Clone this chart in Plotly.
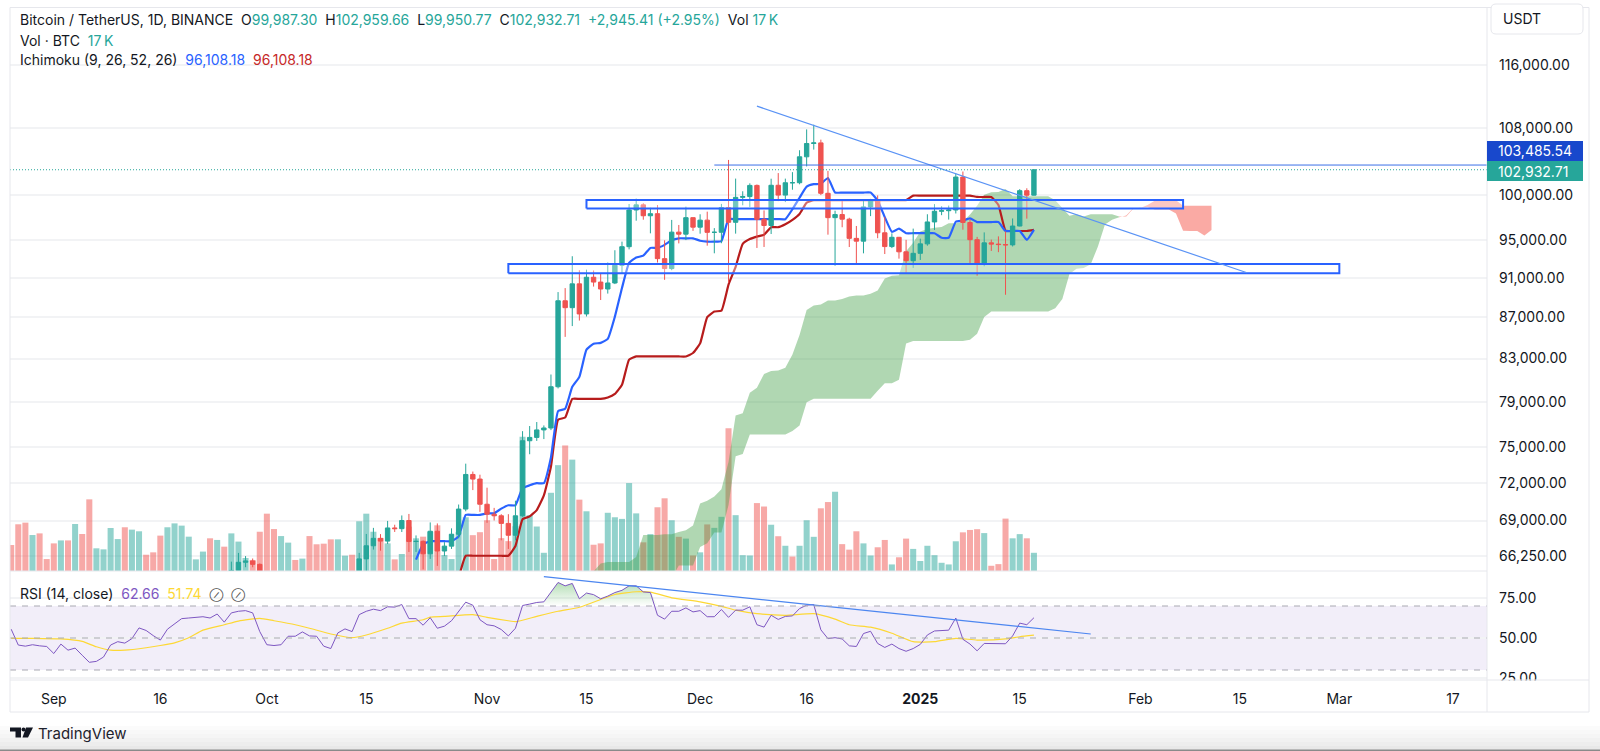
import math
import pandas as pd
import plotly.graph_objects as go

W, H = 1600, 751

# ---------- price candles (USDT) from 2024-09-26 ----------
candle_start = "2024-09-26"
o_ = [63140,65181,65790,65888,65635,
 63329,60837,60632,60751,62086,62058,62820,62224,62134,60582,60275,62445,63193,62851,66046,67041,67612,67399,68418,68362,69001,67367,67380,66432,68161,66642,67014,67929,69907,72720,72339,
 70292,69496,69374,68775,67850,69372,75571,75857,76509,76677,80370,88648,87952,90375,87325,91056,90558,89845,90464,92310,94286,98317,98892,97672,97900,93010,91965,95863,95643,97460,
 96407,97185,95840,95849,98587,96945,99740,99831,101109,97276,96593,101125,100000,101417,101420,104463,106058,106133,100204,97461,97805,97291,95186,94881,98663,99430,95792,94299,95300,93738,92792,
 93576,94591,96985,98174,98236,98315,102078,96922,95043,92484,94701,94566,94516,94480,96534,100504,99987.30]
h_ = [65839,66498,66260,66076,65700,
 64130,62400,61470,62484,62370,62975,64478,63200,62543,61320,63417,63480,63285,66500,67950,68424,67939,68969,68668,69400,69519,67836,67451,68850,68771,67317,68388,70270,73620,72961,72700,
 71632,70000,69500,69500,70577,76400,76849,77199,76900,81500,89530,89940,93265,91790,91850,91763,91449,92594,93905,94831,98988,99588,99073,98564,98871,94973,97208,96650,98692,97463,
 97836,98130,96305,99000,104088,101898,100439,101350,101215,98270,101888,102540,101895,102650,105250,107780,108353,106524,102800,98233,99540,97448,96539,99487,99569,99963,97544,95733,95340,95024,96250,
 95151,97839,98976,98734,98813,102482,102724,97258,95349,95836,95050,95400,95940,97371,100681,100781,102959.66]
l_ = [62670,64819,65422,65420,62750,
 60164,60000,59828,60459,61700,61800,62128,61860,60300,58946,60050,62400,61800,62457,64800,66750,66666,67177,68105,68100,66571,66571,65260,66048,65521,66261,66800,67618,69729,71436,69685,
 68820,69000,67458,66800,67458,69298,74416,75555,75714,76492,80216,85072,86127,86668,87073,90094,88722,89376,90350,91500,94000,97122,97232,95734,92600,90791,91792,94641,95000,96000,
 95693,94395,93578,94660,90500,95700,98844,98658,94150,94256,95658,99311,99205,100615,101237,103322,105321,100000,95587,92232,96398,94250,92520,93575,97632,95199,93500,94135,93009,91530,92033,
 92870,94392,96100,97735,97250,97926,96132,92500,91220,92206,93831,93700,89256,94310,96500,97352,99950.77]
c_ = [65181,65790,65887,65635,63329,
 60837,60632,60751,62086,62058,62820,62224,62134,60582,60275,62445,63193,62851,66046,67041,67612,67399,68418,68362,69001,67367,67380,66432,68161,66642,67014,67929,69907,72720,72339,70292,
 69496,69374,68775,67850,69372,75571,75857,76509,76677,80370,88647,87952,90375,87325,91056,90558,89845,90464,92310,94286,98317,98892,97672,97900,93010,91965,95863,95643,97460,96407,
 97185,95840,95849,98587,96945,99740,99831,101109,97276,96593,101125,100000,101417,101420,104463,106058,106133,100204,97461,97805,97291,95186,94881,98663,99429,95792,94299,95300,93738,92792,93576,
 94591,96985,98174,98236,98315,102078,96922,95043,92484,94701,94566,94516,94480,96534,100504,99987,102932.71]

# ---------- volume (thousand BTC) from 2024-08-26 ----------
volume_start = "2024-08-26"
volume = [17.4,31.3,32.4,24.1,25.2,8.0,
 18.5,20.5,20.5,31.5,24.8,48.0,15.2,14.5,28.8,21.4,29.3,27.7,26.6,10.9,12.5,23.7,29.3,31.9,30.4,23.0,7.8,13.0,21.9,20.8,16.3,25.2,19.7,8.7,7.4,26.3,
 38.4,28.1,23.4,19.0,7.4,8.3,23.4,17.9,18.3,21.2,21.2,10.3,10.9,33.3,38.4,26.3,22.1,18.5,7.8,11.4,29.7,21.9,23.0,26.3,30.6,10.7,8.0,26.0,36.0,24.0,26.0,
 34.0,8.0,22.0,20.0,30.0,89.9,37.4,29.8,12.2,52.4,70.9,84.1,74.6,47.8,40.0,17.6,18.5,39.0,36.0,34.9,58.9,38.6,19.2,24.7,42.7,48.7,34.0,22.9,21.7,10.4,
 12.5,31.2,28.9,36.3,95.6,37.4,10.6,10.4,45.5,43.2,31.0,23.3,16.9,9.7,16.9,34.0,22.9,42.0,46.2,53.1,18.0,14.3,26.6,18.5,10.4,15.9,20.8,4.4,9.2,21.7,14.8,
 6.7,16.9,10.6,5.5,4.4,19.9,25.9,27.5,28.0,25.4,3.5,4.6,35.1,21.9,24.7,21.9,12.2]
volume_dir = ("dddudd" "dududduuuu" "duuddduuuu" "uududuuudd"
              "dduududddd" "uuduuududu" "dududuuuudd"
              "dddduuuuuu" "udududduuu" "uududdudud"
              "uduuduuudd" "ududuuuddu" "ddduudduddu"
              "uuuuuudddu" "ddduudu")

# ---------- Ichimoku (9, 26, 52, 26) ----------
tenkan_start = "2024-10-22"
tenkan = [65988,67160,67390,67390,67390,67390,67765,69440,69440,69440,
 69570,69570,69940,70210,70210,71600,71824,71999,71999,74150,78165,78370,80361,81281,83840,84410,84490,84878,87060,89951,92557,93128,93330,94155,94155,94482,94969,95190,95190,95190,
 94932,94831,94831,94896,97294,97294,97294,97294,97294,97294,97294,97294,97294,98400,99700,100965,101251,101304,101970,100292,100292,100292,100292,100292,100292,99378,97516,95900,96241,95746,95746,
 95746,95746,95746,95253,95253,97006,97127,97378,96972,96972,96972,96972,95990,95990,95990,95018,96108.18]
kijun_start = "2024-10-28"
kijun = [64608,66283,66283,66283,
 66283,66283,66283,66283,67018,69100,69325,69828,71000,73380,77395,77600,79262,79262,79262,79262,79262,79393,79713,80546,82894,83194,83194,83194,83194,83194,83194,83194,83194,83523,
 84443,87002,87571,87651,90290,92152,94580,95107,95378,95580,96405,96405,96732,97219,97875,99140,99426,99426,99426,99426,99426,99426,99426,99426,99426,99426,99426,99426,99426,99426,99941,
 99941,99941,99941,99941,99941,99941,99941,99941,99786,99786,99786,98872,96028,95990,95990,95990,96108.18]
cloud_start = "2024-11-16"
span_a = [65110,65696,65811,65811,65811,65811,66186,67861,67861,67861,
 67926,67926,68111,68246,68614,70350,70574,70913,71500,73765,77780,77985,79811,80271,81551,81836,81876,82135,83386,85248,87725,88161,88262,88674,88674,88838,89081,89192,89192,89356,
 89687,90916,91201,91273,93792,94723,95937,96200,96336,96437,96849,96849,97013,97809,98787,100052,100338,100365,100698,99859,99859,99859,99859,99859,99859,99402,98471,97663,97833,97586,97843,
 97843,97843,97843,97597,97597,98473,98534,98659,98379,98379,98379,97922,96009,95990,95990,95504,96108.18]
span_b = [61035,61035,61035,61035,61035,61035,62007,63610,63610,64000,
 64587,64587,65556,65556,65556,66946,67234,68072,68072,70223,74238,74443,76105,76105,76105,76105,76105,76105,76425,76888,78967,79267,79267,79267,79267,79267,79267,79267,79267,79267,
 80002,80694,80694,81022,84444,84674,84674,84674,84674,84674,84674,84674,84674,84804,85385,87020,87576,87576,87576,87576,87576,87576,87576,87576,87576,87905,88825,91384,91954,92033,92422,
 94284,96712,97240,97510,97713,98537,98537,98864,99351,99426,99426,99426,98804,98804,98804,98804,98804]

# ---------- RSI (14) from 2024-08-26 ----------
rsi = [55.5,45.6,44.9,45.8,45.1,44.7,40.3,46.2,42.4,43.7,39.2,34.8,35.4,38.1,45.6,47.7,46.8,49.6,56.3,54.7,
 51.5,48.7,55.5,59.1,62.1,62.5,62.9,63.3,62.5,65.0,59.9,65.7,66.7,67.1,65.7,54.0,45.8,45.3,45.8,51.1,
 51.1,53.8,51.3,51.1,44.9,43.4,53.2,55.7,54.0,64.6,66.7,68.0,67.1,69.5,69.3,70.9,62.1,62.1,58.0,62.7,
 56.1,57.4,60.8,66.7,72.4,70.5,61.4,58.3,57.6,55.3,51.3,56.1,70.3,71.2,72.2,72.6,78.4,84.7,82.6,84.1,
 74.5,78.1,77.1,74.5,76.2,78.4,79.8,82.6,82.6,78.8,78.4,64.2,61.8,66.7,66.7,68.8,66.3,67.1,63.3,63.3,
 67.8,62.9,67.4,67.4,69.5,58.3,56.8,64.2,61.6,63.5,63.8,68.4,70.5,70.9,55.1,49.6,50.2,49.4,45.1,44.7,
 52.8,54.2,46.6,44.1,46.2,43.4,41.7,43.4,46.0,51.9,54.4,54.7,54.9,62.5,49.2,46.2,42.0,46.6,46.6,46.6,
 46.4,51.3,59.3,58.3,62.66]
rsi_ma_days = [0,3,7,10,12,14,16,19,21,23,25,27,30,32,35,37,40,42,45,48,50,53,55,58,59,61,65,67,70,71,74,77,80,83,85,88,90,93,97,100,102,105,109,113,116,118,121,124,127,130,133,136,140,142,144]
rsi_ma = [49.8,49.8,49.4,47.9,44.5,42.4,42.4,43.9,45.3,47.0,50.2,54.9,58.3,60.6,62.3,60.8,58.3,56.1,52.5,50.2,51.9,56.1,59.3,61.4,63.1,63.5,64.6,62.9,60.8,60.2,63.5,66.7,69.2,74.1,77.2,78.9,78.7,75.1,72.6,69.8,67.4,65.2,64.2,65.2,61.8,58.3,56.8,53.0,47.7,47.7,49.8,48.7,49.4,50.8,51.74]

# ---------- drawings ----------
zone_upper_dates = ["2024-11-15", "2025-02-07"]
zone_upper_prices = [98472, 99431]
zone_lower_dates = ["2024-11-04", "2025-03-01"]
zone_lower_prices = [91480, 92434]
trend_dates = ["2024-12-09", "2025-02-16"]
trend_prices = [110680, 91530]
rsi_trend_dates = ["2024-11-09", "2025-01-25"]
rsi_trend_values = [88.3, 52.5]
level_dates = ["2024-12-03", "2025-03-22"]
level_price = 103485.54
last_price = 102932.71
x_range = ["2024-08-25 20:00", "2025-03-21 19:00"]

# ---------- axis labels ----------
price_ticks = [116000,108000,100000,95000,91000,87000,83000,79000,75000,72000,69000,66250]
rsi_ticks = [75, 50, 25]
date_ticks = ["2024-09-01","2024-09-16","2024-10-01","2024-10-15","2024-11-01","2024-11-15","2024-12-01","2024-12-16","2025-01-01","2025-01-15","2025-02-01","2025-02-15","2025-03-01","2025-03-17"]
date_labels = ["Sep","16","Oct","15","Nov","15","Dec","16","<b>2025</b>","15","Feb","15","Mar","17"]

for a, b in [(o_, h_), (o_, l_), (o_, c_)]:
    assert len(a) == len(b)
assert len(volume) == len(volume_dir) == len(rsi)
assert len(tenkan) == len(span_a) == len(span_b)

FONT = "Inter, Roboto, sans-serif"
INK = "#131722"
TEAL = "#26a69a"
RED = "#ef5350"
BLUE = "#2962ff"
DARKRED = "#b71c1c"
GRID = "#f2f3f5"
FRAME = "#e6e7ec"

def days(start, values):
    return pd.date_range(start, periods=len(values), freq="D")

def px(x): return x / W
def py(y): return 1 - y / H

candle_dates = days(candle_start, o_)
vol_dates = days(volume_start, volume)
cloud_dates = days(cloud_start, span_a)
rsi_dates = days(volume_start, rsi)

traces = []
# volume, drawn first
traces.append(go.Bar(x=vol_dates, y=volume, xaxis="x", yaxis="y",
                     marker=dict(color=["rgba(38,166,154,0.5)" if d == "u" else "rgba(239,83,80,0.5)" for d in volume_dir], line_width=0),
                     showlegend=False))
# cloud
last_green = max(i for i, (a, b) in enumerate(zip(span_a, span_b)) if a >= b)
segments = [(0, last_green + 1, "rgba(67,160,71,0.42)"), (last_green, len(span_a), "rgba(244,67,54,0.45)")]
for s, e, col in segments:
    traces.append(go.Scatter(x=cloud_dates[s:e], y=span_b[s:e], xaxis="x", yaxis="y2", mode="lines",
                             line=dict(width=0, color=col), showlegend=False))
    traces.append(go.Scatter(x=cloud_dates[s:e], y=span_a[s:e], xaxis="x", yaxis="y2", mode="lines",
                             line=dict(width=0, color=col), fill="tonexty", fillcolor=col, showlegend=False))
# tenkan / kijun
traces.append(go.Scatter(x=days(kijun_start, kijun), y=kijun, xaxis="x", yaxis="y2", mode="lines",
                         line=dict(color=DARKRED, width=2.2, shape="spline", smoothing=0.4), showlegend=False))
traces.append(go.Scatter(x=days(tenkan_start, tenkan), y=tenkan, xaxis="x", yaxis="y2", mode="lines",
                         line=dict(color=BLUE, width=2.2, shape="spline", smoothing=0.4), showlegend=False))
# candles
traces.append(go.Candlestick(x=candle_dates, open=o_, high=h_, low=l_, close=c_, xaxis="x", yaxis="y3",
                             increasing=dict(line=dict(color=TEAL, width=1), fillcolor=TEAL),
                             decreasing=dict(line=dict(color=RED, width=1), fillcolor=RED),
                             whiskerwidth=0, showlegend=False))
# drawings
def zone(dates, prices):
    return go.Scatter(x=[dates[0], dates[1], dates[1], dates[0], dates[0]],
                      y=[prices[0], prices[0], prices[1], prices[1], prices[0]],
                      xaxis="x", yaxis="y4", mode="lines", fill="toself",
                      fillcolor="rgba(255,255,255,0.35)", line=dict(color=BLUE, width=2), showlegend=False)
traces.append(zone(zone_upper_dates, zone_upper_prices))
traces.append(zone(zone_lower_dates, zone_lower_prices))
traces.append(go.Scatter(x=trend_dates, y=trend_prices, xaxis="x", yaxis="y4", mode="lines",
                         line=dict(color="#5a93f5", width=1.2), showlegend=False))
traces.append(go.Scatter(x=level_dates, y=[level_price, level_price], xaxis="x", yaxis="y4", mode="lines",
                         line=dict(color="#3b6fe8", width=1), showlegend=False))
traces.append(go.Scatter(x=x_range, y=[last_price, last_price], xaxis="x", yaxis="y4", mode="lines",
                         line=dict(color=TEAL, width=1, dash="1px,2px"), showlegend=False))
# RSI
traces.append(go.Scatter(x=rsi_dates, y=[70] * len(rsi), xaxis="x2", yaxis="y5", mode="lines",
                         line=dict(width=0), showlegend=False))
traces.append(go.Scatter(x=rsi_dates, y=[max(v, 70) for v in rsi], xaxis="x2", yaxis="y5", mode="lines",
                         line=dict(width=0), fill="tonexty",
                         fillgradient=dict(type="vertical", start=70, stop=86,
                                           colorscale=[[0, "rgba(76,175,80,0)"], [1, "rgba(76,175,80,0.45)"]]),
                         showlegend=False))
traces.append(go.Scatter(x=rsi_dates[rsi_ma_days], y=rsi_ma, xaxis="x2", yaxis="y5", mode="lines",
                         line=dict(color="#fdd835", width=1.2, shape="spline", smoothing=0.5), showlegend=False))
traces.append(go.Scatter(x=rsi_dates, y=rsi, xaxis="x2", yaxis="y5", mode="lines",
                         line=dict(color="#7e57c2", width=1), showlegend=False))
traces.append(go.Scatter(x=rsi_trend_dates, y=rsi_trend_values, xaxis="x2", yaxis="y5", mode="lines",
                         line=dict(color="#4c86f0", width=1.2), showlegend=False))

fig = go.Figure(traces)

main_domain = [py(571), py(7.5)]
rsi_domain = [py(680), py(571)]
price_range = [math.log10(65140), math.log10(123850)]
x_domain = [px(10), px(1487)]
tickfont = dict(family=FONT, size=14, color=INK)

hidden_price = dict(type="log", range=price_range, overlaying="y", anchor="x", visible=False, showgrid=False, automargin=False)
fig.update_layout(
    width=W, height=H, autosize=False, margin=dict(l=0, r=0, t=0, b=0, autoexpand=False),
    paper_bgcolor="white", plot_bgcolor="rgba(0,0,0,0)", showlegend=False, hovermode=False,
    bargap=0.15, boxgap=0.12,
    font=dict(family=FONT, color=INK),
    xaxis=dict(domain=x_domain, range=x_range, type="date", anchor="y", visible=False, showgrid=False,
               automargin=False, rangeslider=dict(visible=False)),
    xaxis2=dict(domain=x_domain, matches="x", type="date", anchor="y5", showgrid=False, zeroline=False,
                automargin=False, tickmode="array", tickvals=date_ticks, ticktext=date_labels, ticks="",
                ticklabelstandoff=9, tickfont=tickfont, showline=False),
    yaxis=dict(domain=main_domain, range=[0, 377.5], anchor="x", visible=False, showgrid=False, automargin=False),
    yaxis2=dict(type="log", range=price_range, overlaying="y", anchor="x", side="right", showgrid=True,
                automargin=False, gridcolor=GRID, gridwidth=1.5, zeroline=False, tickmode="array", tickvals=price_ticks,
                ticktext=[f"{v:,.2f}" for v in price_ticks], ticks="", ticklabelstandoff=11, tickfont=tickfont),
    yaxis3=hidden_price,
    yaxis4=hidden_price,
    yaxis5=dict(domain=rsi_domain, range=[23.75, 91.875], anchor="x2", side="right", showgrid=True,
                automargin=False, gridcolor=GRID, gridwidth=1.5, zeroline=False, tickmode="array", tickvals=rsi_ticks,
                ticktext=[f"{v:.2f}" for v in rsi_ticks], ticks="", ticklabelstandoff=11, tickfont=tickfont),
)

def paper_line(x0, y0, x1, y1, color=FRAME, width=1):
    return dict(type="line", xref="paper", yref="paper", x0=px(x0), y0=py(y0), x1=px(x1), y1=py(y1),
                line=dict(color=color, width=width), layer="above")

def paper_rect(x0, y0, x1, y1, fill, line=None):
    return dict(type="rect", xref="paper", yref="paper", x0=px(x0), y0=py(y0), x1=px(x1), y1=py(y1),
                fillcolor=fill, line=dict(width=0 if line is None else 1, color=line or fill), layer="above")

def poly(points, fill):
    path = "M " + " L ".join(f"{px(x):.5f},{py(y):.5f}" for x, y in points) + " Z"
    return dict(type="path", xref="paper", yref="paper", path=path, fillcolor=fill, line=dict(width=0), layer="above")

shapes = []
# RSI band and levels
shapes.append(dict(type="rect", xref="x2 domain", yref="y5", x0=0, x1=1, y0=30, y1=70,
                   fillcolor="rgba(126,87,194,0.1)", line_width=0, layer="below"))
for lvl in (70, 50, 30):
    shapes.append(dict(type="line", xref="x2 domain", yref="y5", x0=0, x1=1, y0=lvl, y1=lvl,
                       line=dict(color="#a9a9b2", width=1, dash="6px,6px"), layer="above"))
# cover the lower half of the clipped 25.00 label + the time scale corner
shapes.append(paper_rect(1488, 680.5, 1588.5, 711.5, "white"))
# bottom page shade
for i, grey in enumerate(["#fbfbfb", "#f8f8f8", "#f5f5f5", "#f1f1f1", "#ededed", "#e8e8e8"]):
    shapes.append(paper_rect(0, 726 + i * 4, W, 751, grey))
shapes.append(paper_rect(0, 749.5, W, 751, "#8a8a8a"))
# frame
shapes += [paper_line(10, 7.5, 1589, 7.5), paper_line(10, 7.5, 10, 712), paper_line(1589, 7.5, 1589, 712),
           paper_line(10, 712, 1589, 712), paper_line(1487, 7.5, 1487, 712), paper_line(10, 680, 1589, 680),
           paper_line(10, 571, 1487, 571)]
# USDT button
r = 5
bx0, by0, bx1, by1 = 1491, 4, 1583, 34
shapes.append(dict(type="path", xref="paper", yref="paper", fillcolor="white", layer="above",
                   line=dict(color=FRAME, width=1),
                   path=(f"M {px(bx0+r)},{py(by0)} L {px(bx1-r)},{py(by0)} Q {px(bx1)},{py(by0)} {px(bx1)},{py(by0+r)} "
                         f"L {px(bx1)},{py(by1-r)} Q {px(bx1)},{py(by1)} {px(bx1-r)},{py(by1)} "
                         f"L {px(bx0+r)},{py(by1)} Q {px(bx0)},{py(by1)} {px(bx0)},{py(by1-r)} "
                         f"L {px(bx0)},{py(by0+r)} Q {px(bx0)},{py(by0)} {px(bx0+r)},{py(by0)} Z")))
# price tags
shapes.append(paper_rect(1487, 141, 1583, 161, "#1848cc"))
shapes.append(paper_rect(1487, 161, 1583, 181, TEAL))
# TradingView mark
LOGO = "#131722"
shapes.append(poly([(10, 727.5), (21, 727.5), (21, 737.5), (15.5, 737.5), (15.5, 731.5), (10, 731.5)], LOGO))
shapes.append(dict(type="circle", xref="paper", yref="paper", x0=px(21.5), x1=px(25.5), y0=py(727.5), y1=py(731.5),
                   fillcolor=LOGO, line_width=0, layer="above"))
shapes.append(poly([(26, 727.5), (33, 727.5), (28, 737.5), (22.5, 737.5)], LOGO))
fig.update_layout(shapes=shapes)

def text(x, y, s, size=14, color=INK, family=FONT):
    return dict(xref="paper", yref="paper", x=px(x), y=py(y), text=s, showarrow=False, xanchor="left",
                yanchor="middle", align="left", font=dict(family=family, size=size, color=color), borderpad=0, borderwidth=0)

def c(s, col): return f'<span style="color:{col}">{s}</span>'

sp = "\u00a0"
line1 = (f"Bitcoin / TetherUS, 1D, BINANCE{sp}{sp}O" + c("99,987.30", TEAL) + f"{sp}{sp}H" + c("102,959.66", TEAL)
         + f"{sp}{sp}L" + c("99,950.77", TEAL) + f"{sp}{sp}C" + c("102,932.71", TEAL) + f"{sp}{sp}" + c(f"+2,945.41{sp}(+2.95%)", TEAL)
         + f"{sp}{sp}Vol{sp}" + c("17" + "\u202f" + "K", TEAL))
slash = '<span style="color:#555;font-size:10px">\u2298</span>'
annotations = [
    text(20, 20, line1),
    text(20, 40, f"Vol · BTC{sp}{sp}" + c("17\u202fK", TEAL)),
    text(20, 60, f"Ichimoku (9, 26, 52, 26){sp}{sp}" + c("96,108.18", BLUE) + f"{sp}{sp}" + c("96,108.18", "#c62828")),
    text(20, 593.5, f"RSI (14, close){sp}{sp}" + c("62.66", "#7e57c2") + f"{sp}{sp}" + c("51.74", "#fdd835")
         + f"{sp}{sp}" + slash + f"{sp}{sp}" + slash),
    text(1503, 19, "USDT", size=14),
    text(1498, 151, "103,485.54", color="white"),
    text(1498, 171, "102,932.71", color="white"),
    text(38, 733, "TradingView", size=15, color="#1e222d"),
]
fig.update_layout(annotations=annotations)

fig.write_html("out.html", include_plotlyjs=True, config=dict(displayModeBar=False),
               post_script="document.body.style.margin='0';document.body.style.overflow='hidden';")
